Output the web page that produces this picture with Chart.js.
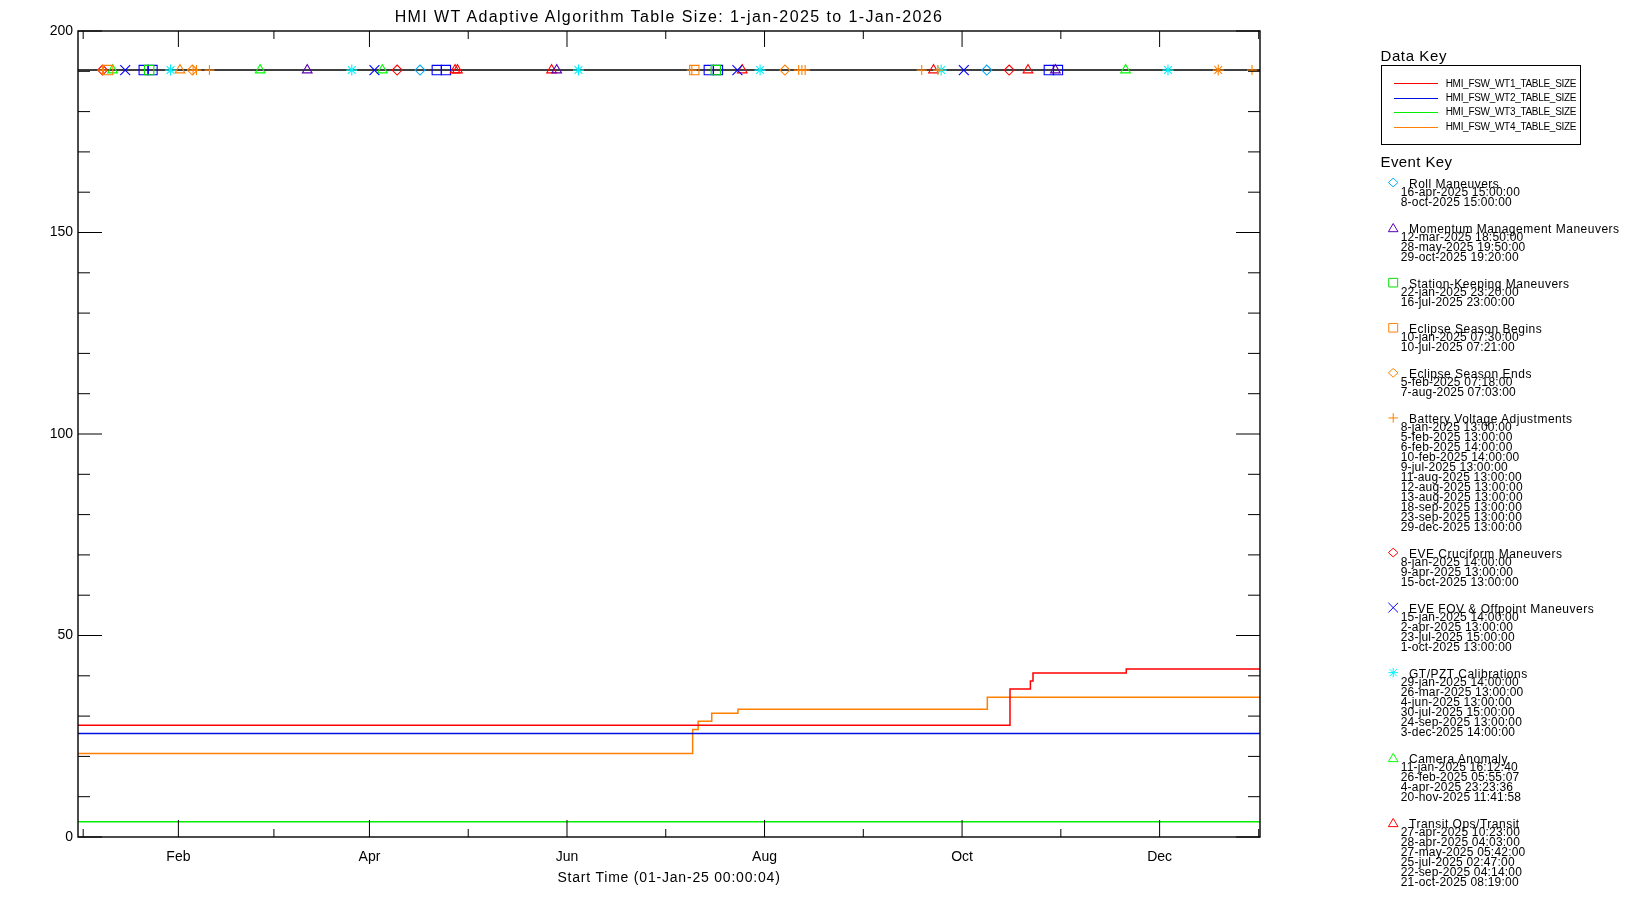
<!DOCTYPE html>
<html lang="en">
<head>
<meta charset="UTF-8">
<title>HMI WT Adaptive Algorithm Table Size</title>
<script src="https://cdn.jsdelivr.net/npm/chart.js@4.4.1/dist/chart.umd.min.js"></script>
<style>
    body { margin: 0; background: #fff; font-family: "Liberation Sans", Arial, sans-serif; }
    #wrap { position: relative; width: 1650px; height: 900px; overflow: hidden; }
    #chart { position: absolute; left: 0; top: 0; }
    .txt { position: absolute; white-space: nowrap; color: #000; line-height: 1; }
    .keybox { position: absolute; border: 1px solid #000; box-sizing: border-box; }
    .keyline { position: absolute; height: 1px; }
</style>
</head>
<body>
<div id="wrap">
    <canvas id="chart" width="1650" height="900"></canvas>
</div>

<script>
// ---- data (x = days since 1-Jan-2025 00:00) ----
const wt1Days   = [0, 287.8, 294.1, 294.9, 323.7, 365];
const wt1Values = [27.7, 36.7, 38.7, 40.7, 41.7, 41.7];
const wt2Days   = [0, 365];
const wt2Values = [25.7, 25.7];
const wt3Days   = [0, 365];
const wt3Values = [3.8, 3.8];
const wt4Days   = [0, 189.8, 191.5, 195.7, 203.8, 280.8, 365];
const wt4Values = [20.7, 26.7, 28.7, 30.7, 31.7, 34.7, 34.7];

const seriesNames = ['HMI_FSW_WT1_TABLE_SIZE', 'HMI_FSW_WT2_TABLE_SIZE', 'HMI_FSW_WT3_TABLE_SIZE', 'HMI_FSW_WT4_TABLE_SIZE'];

const eventLevel = 190.3;

const rollDates = ['16-apr-2025 15:00:00', '8-oct-2025 15:00:00'];
const momentumDates = ['12-mar-2025 18:50:00', '28-may-2025 19:50:00', '29-oct-2025 19:20:00'];
const stationDates = ['22-jan-2025 23:20:00', '16-jul-2025 23:00:00'];
const eclipseBeginDates = ['10-jan-2025 07:30:00', '10-jul-2025 07:21:00'];
const eclipseEndDates = ['5-feb-2025 07:18:00', '7-aug-2025 07:03:00'];
const batteryDates = ['8-jan-2025 13:00:00', '5-feb-2025 13:00:00', '6-feb-2025 14:00:00', '10-feb-2025 14:00:00',
    '9-jul-2025 13:00:00', '11-aug-2025 13:00:00', '12-aug-2025 13:00:00', '13-aug-2025 13:00:00',
    '18-sep-2025 13:00:00', '23-sep-2025 13:00:00', '29-dec-2025 13:00:00'];
const cruciformDates = ['8-jan-2025 14:00:00', '9-apr-2025 13:00:00', '15-oct-2025 13:00:00'];
const offpointDates = ['15-jan-2025 14:00:00', '2-apr-2025 13:00:00', '23-jul-2025 15:00:00', '1-oct-2025 13:00:00'];
const calibrationDates = ['29-jan-2025 14:00:00', '26-mar-2025 13:00:00', '4-jun-2025 13:00:00',
    '30-jul-2025 15:00:00', '24-sep-2025 13:00:00', '3-dec-2025 14:00:00'];
const cameraDates = ['11-jan-2025 16:12:40', '26-feb-2025 05:55:07', '4-apr-2025 23:23:36', '20-nov-2025 11:41:58'];
const transitDates = ['27-apr-2025 10:23:00', '28-apr-2025 04:03:00', '27-may-2025 05:42:00',
    '25-jul-2025 02:47:00', '22-sep-2025 04:14:00', '21-oct-2025 08:19:00'];

// markers on the plot that have no entry in the key
const blueSquareDays = [20.3, 23.0, 110.8, 113.6, 194.8, 197.6, 299.8, 302.6];
const orangeTriangleDays = [31.5];
const orangeStarDays = [352.1];

// axis ticks
const monthTickDays = [31, 90, 151, 212, 273, 334];
const monthTickLabels = ['Feb', 'Apr', 'Jun', 'Aug', 'Oct', 'Dec'];
const xMinorTickDays = [1.6, 60.5, 120.5, 181.5, 242.5, 303.5, 364.6];
const yMajorTicks = [0, 50, 100, 150, 200];
const yMinorTicks = [10, 20, 30, 40, 60, 70, 80, 90, 110, 120, 130, 140, 160, 170, 180, 190];

// ---- helpers ----
const MONTHS = ['jan','feb','mar','apr','may','jun','jul','aug','sep','oct','nov','dec'];
function dayOfYear(s) {
    const [d, t] = s.split(' ');
    const [dd, mon, yyyy] = d.split('-');
    const [hh, mm, ss] = t.split(':').map(Number);
    const ms = Date.UTC(+yyyy, MONTHS.indexOf(mon), +dd, hh, mm, ss) - Date.UTC(2025, 0, 1);
    return ms / 86400000;
}
function pts(days, values) { return days.map((d, i) => ({ x: d, y: values[i] })); }
function evPts(days) { return days.map(d => ({ x: d, y: eventLevel })); }

const eventKeys = [
    { name: 'Roll Maneuvers', dates: rollDates, symbol: 'diamond', color: '#00a8ff' },
    { name: 'Momentum Management Maneuvers', dates: momentumDates, symbol: 'triangle', color: '#5a00b4' },
    { name: 'Station-Keeping Maneuvers', dates: stationDates, symbol: 'square', color: '#00e000' },
    { name: 'Eclipse Season Begins', dates: eclipseBeginDates, symbol: 'square', color: '#ff8000' },
    { name: 'Eclipse Season Ends', dates: eclipseEndDates, symbol: 'diamond', color: '#ff8000' },
    { name: 'Battery Voltage Adjustments', dates: batteryDates, symbol: 'plus', color: '#ff8000' },
    { name: 'EVE Cruciform Maneuvers', dates: cruciformDates, symbol: 'diamond', color: '#ff0000' },
    { name: 'EVE FOV & Offpoint Maneuvers', dates: offpointDates, symbol: 'x', color: '#0000ff' },
    { name: 'GT/PZT Calibrations', dates: calibrationDates, symbol: 'star', color: '#00f0ff' },
    { name: 'Camera Anomaly', dates: cameraDates, symbol: 'triangle', color: '#00ff00' },
    { name: 'Transit Ops/Transit', dates: transitDates, symbol: 'triangle', color: '#ff0000' }
];

const pointStyles = { diamond: 'rectRot', triangle: 'triangle', square: 'rect', plus: 'cross', x: 'crossRot', star: 'star' };
const pointSizes = { diamond: 5, triangle: 5.6, square: 6.6, plus: 5, x: 7, star: 5.5 };

function markerSet(days, symbol, color) {
    return {
        data: evPts(days), showLine: false,
        pointStyle: pointStyles[symbol], pointRadius: pointSizes[symbol],
        pointBorderColor: color, pointBackgroundColor: 'rgba(0,0,0,0)', pointBorderWidth: 1.1
    };
}

const datasets = [];
eventKeys.forEach(k => datasets.push(markerSet(k.dates.map(dayOfYear), k.symbol, k.color)));
datasets.push(markerSet(blueSquareDays, 'square', '#0000ff'));
datasets.push(markerSet(orangeTriangleDays, 'triangle', '#ff8000'));
datasets.push(markerSet(orangeStarDays, 'star', '#ff8000'));

datasets.push({ data: [{ x: 0, y: eventLevel }, { x: 365, y: eventLevel }], borderColor: '#000', borderWidth: 1.5, pointRadius: 0 });

const lineColors = ['#ff0000', '#0010e0', '#00ee00', '#ff8000'];
[[wt1Days, wt1Values], [wt2Days, wt2Values], [wt3Days, wt3Values], [wt4Days, wt4Values]].forEach((s, i) => {
    datasets.push({
        label: seriesNames[i], data: pts(s[0], s[1]), stepped: 'before',
        borderColor: lineColors[i], borderWidth: 1.5, pointRadius: 0
    });
});

// ---- legend symbol drawing ----
function drawSymbol(ctx, symbol, x, y, r) {
    ctx.beginPath();
    if (symbol === 'diamond') {
        ctx.moveTo(x, y - r * 0.9); ctx.lineTo(x + r, y); ctx.lineTo(x, y + r * 0.9); ctx.lineTo(x - r, y); ctx.closePath();
    } else if (symbol === 'triangle') {
        ctx.moveTo(x, y - r * 0.85); ctx.lineTo(x + r, y + r * 0.85); ctx.lineTo(x - r, y + r * 0.85); ctx.closePath();
    } else if (symbol === 'square') {
        ctx.rect(x - r * 0.93, y - r * 0.9, r * 1.86, r * 1.8);
    } else if (symbol === 'plus') {
        ctx.moveTo(x - r, y); ctx.lineTo(x + r, y); ctx.moveTo(x, y - r); ctx.lineTo(x, y + r);
    } else if (symbol === 'x') {
        ctx.moveTo(x - r, y - r); ctx.lineTo(x + r, y + r); ctx.moveTo(x - r, y + r); ctx.lineTo(x + r, y - r);
    } else if (symbol === 'star') {
        ctx.moveTo(x - r, y); ctx.lineTo(x + r, y); ctx.moveTo(x, y - r); ctx.lineTo(x, y + r);
        ctx.moveTo(x - r * 0.75, y - r * 0.75); ctx.lineTo(x + r * 0.75, y + r * 0.75);
        ctx.moveTo(x - r * 0.75, y + r * 0.75); ctx.lineTo(x + r * 0.75, y - r * 0.75);
    }
    ctx.stroke();
}

// legend layout
const keyLeft = 1380.5;
const symX = 1393.2, titleX = 1409, dateX = 1400.7;
const entryY = [];
(function () {
    let y = 183.5;
    eventKeys.forEach(k => {
        entryY.push(y);
        const last = y + 8.4 + (k.dates.length - 1) * 9.95;
        y = last + 26.75;
    });
})();

const frameTicks = {
    id: 'frameTicks',
    afterDatasetsDraw(chart) {
        const { ctx, chartArea: a, scales: { x, y } } = chart;
        ctx.save();
        ctx.strokeStyle = '#000';
        ctx.lineWidth = 1;
        ctx.beginPath();
        yMajorTicks.forEach(v => {
            const py = y.getPixelForValue(v);
            ctx.moveTo(a.left, py); ctx.lineTo(a.left + 24, py);
            ctx.moveTo(a.right, py); ctx.lineTo(a.right - 24, py);
        });
        yMinorTicks.forEach(v => {
            const py = y.getPixelForValue(v);
            ctx.moveTo(a.left, py); ctx.lineTo(a.left + 12, py);
            ctx.moveTo(a.right, py); ctx.lineTo(a.right - 12, py);
        });
        monthTickDays.forEach(v => {
            const px = x.getPixelForValue(v);
            ctx.moveTo(px, a.bottom); ctx.lineTo(px, a.bottom - 17);
            ctx.moveTo(px, a.top); ctx.lineTo(px, a.top + 16);
        });
        xMinorTickDays.forEach(v => {
            const px = x.getPixelForValue(v);
            ctx.moveTo(px, a.bottom); ctx.lineTo(px, a.bottom - 8);
            ctx.moveTo(px, a.top); ctx.lineTo(px, a.top + 8);
        });
        ctx.stroke();
        ctx.lineWidth = 1.4;
        ctx.strokeRect(a.left, a.top, a.right - a.left, a.bottom - a.top);

        // event key symbols
        ctx.lineWidth = 1;
        eventKeys.forEach((k, i) => {
            ctx.strokeStyle = k.color;
            drawSymbol(ctx, k.symbol, symX, entryY[i] - 1, 4.8);
        });
        ctx.restore();
    }
};

Chart.defaults.font.family = "'Liberation Sans', Arial, sans-serif";
Chart.defaults.font.size = 14;
Chart.defaults.color = '#000';

new Chart(document.getElementById('chart'), {
    type: 'line',
    data: { datasets: datasets },
    options: {
        responsive: false,
        animation: false,
        events: [],
        layout: { padding: { left: 0, top: 31, right: 390, bottom: 0 } },
        plugins: { legend: { display: false }, tooltip: { enabled: false }, title: { display: false } },
        scales: {
            x: {
                type: 'linear', min: 0, max: 365,
                grid: { display: false, drawTicks: false },
                border: { display: false },
                afterBuildTicks: s => { s.ticks = monthTickDays.map(v => ({ value: v })); },
                afterFit: s => { s.height = 63; },
                ticks: {
                    autoSkip: false, maxRotation: 0, padding: 12,
                    callback: v => monthTickLabels[monthTickDays.indexOf(v)]
                }
            },
            y: {
                type: 'linear', min: 0, max: 200,
                grid: { display: false, drawTicks: false },
                border: { display: false },
                afterFit: s => { s.width = 78; },
                ticks: { stepSize: 50, padding: 5 }
            }
        }
    },
    plugins: [frameTicks]
});

// ---- texts ----
const wrap = document.getElementById('wrap');
function addText(str, left, centerY, size, spacing, centered) {
    const el = document.createElement('div');
    el.className = 'txt';
    el.textContent = str;
    el.style.fontSize = size + 'px';
    el.style.letterSpacing = spacing + 'px';
    el.style.top = (centerY - size * 0.5) + 'px';
    el.style.left = left + 'px';
    if (centered) el.style.transform = 'translateX(-50%)';
    wrap.appendChild(el);
    return el;
}

addText('HMI WT Adaptive Algorithm Table Size: 1-jan-2025 to 1-Jan-2026', 669, 16.7, 16, 1.4, true);
addText('Start Time (01-Jan-25 00:00:04)', 669, 876.7, 14, 0.8, true);

addText('Data Key', keyLeft, 55, 15, 0.6, false);
const box = document.createElement('div');
box.className = 'keybox';
Object.assign(box.style, { left: keyLeft + 'px', top: '65px', width: '200px', height: '79.5px' });
wrap.appendChild(box);
const keyLineY = [83.7, 98, 112.3, 127];
seriesNames.forEach((n, i) => {
    const ln = document.createElement('div');
    ln.className = 'keyline';
    Object.assign(ln.style, { left: '1394px', width: '44px', top: (keyLineY[i] - 0.5) + 'px', background: lineColors[i] });
    wrap.appendChild(ln);
    addText(n, 1445.7, keyLineY[i], 10, -0.3, false);
});

addText('Event Key', keyLeft, 161, 15, 0.4, false);
eventKeys.forEach((k, i) => {
    addText(k.name, titleX, entryY[i], 12, 0.5, false);
    k.dates.forEach((d, j) => addText(d, dateX, entryY[i] + 8.4 + j * 9.95, 12, 0.2, false));
});
</script>
</body>
</html>
